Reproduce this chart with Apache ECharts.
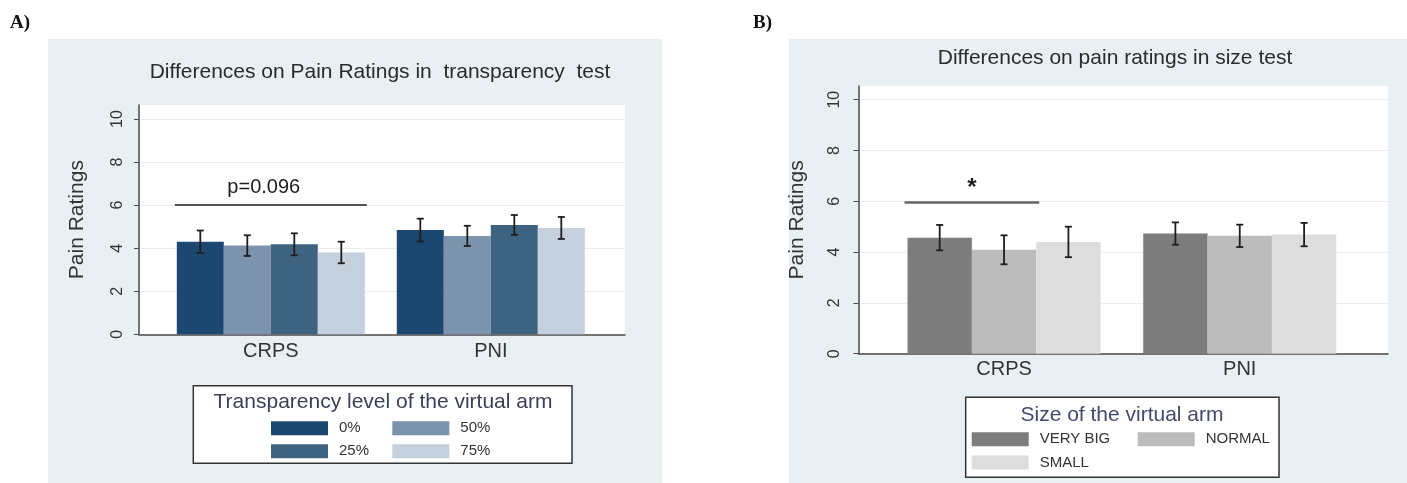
<!DOCTYPE html>
<html><head><meta charset="utf-8">
<script src="https://cdn.jsdelivr.net/npm/echarts@6/dist/echarts.min.js"></script>
<style>html,body{margin:0;padding:0;background:#fff}#c{width:1407px;height:483px}</style>
</head><body><div id="c"></div>
<script>
// ---------- data ----------
const categories = ['CRPS', 'PNI'];
const yTicks = [0, 2, 4, 6, 8, 10];

// Panel A: transparency test (bar order as drawn)
const transNames = ['0%', '50%', '25%', '75%'];
const trans0  = [4.30, 4.84];
const trans50 = [4.12, 4.57];
const trans25 = [4.18, 5.08];
const trans75 = [3.80, 4.94];
const trans0Err  = [0.52, 0.53];
const trans50Err = [0.48, 0.47];
const trans25Err = [0.51, 0.46];
const trans75Err = [0.50, 0.51];
const transSigLevel = [6.0];
const transSigLabel = ['p=0.096'];

// Panel B: size test
const sizeNames = ['VERY BIG', 'NORMAL', 'SMALL'];
const sizeVeryBig = [4.57, 4.73];
const sizeNormal  = [4.09, 4.64];
const sizeSmall   = [4.40, 4.69];
const sizeVeryBigErr = [0.50, 0.44];
const sizeNormalErr  = [0.57, 0.44];
const sizeSmallErr   = [0.60, 0.46];
const sizeSigLevel = [5.95];
const sizeSigLabel = ['*'];

// ---------- helpers ----------
const FONT = 'Liberation Sans, Arial, sans-serif';

function errSeries(name, gi, vals, errs, k, n, gap) {
  return {
    type: 'custom', name: name + ' err', xAxisIndex: gi, yAxisIndex: gi, z: 5,
    data: vals.map((v, i) => [i, v - errs[i], v + errs[i]]),
    encode: { x: 0, y: [1, 2] },
    renderItem: function (params, api) {
      const hi = api.coord([api.value(0), api.value(2)]);
      const lo = api.coord([api.value(0), api.value(1)]);
      const band = api.size([1, 0])[0];
      const bw = band * (1 - gap) / n;
      const x = hi[0] - band * (1 - gap) / 2 + (k + 0.5) * bw;
      const st = { stroke: '#1e1e1e', lineWidth: 1.8 };
      return { type: 'group', children: [
        { type: 'line', shape: { x1: x, y1: hi[1], x2: x, y2: lo[1] }, style: st },
        { type: 'line', shape: { x1: x - 3.5, y1: hi[1], x2: x + 3.5, y2: hi[1] }, style: st },
        { type: 'line', shape: { x1: x - 3.5, y1: lo[1], x2: x + 3.5, y2: lo[1] }, style: st }
      ]};
    }
  };
}

function sigSeries(gi, level, label, s0, s1, n, gap, opt) {
  return {
    type: 'custom', xAxisIndex: gi, yAxisIndex: gi, z: 6,
    data: level.map((v, i) => [i, v]),
    encode: { x: 0, y: 1 },
    renderItem: function (params, api) {
      const p = api.coord([api.value(0), api.value(1)]);
      const band = api.size([1, 0])[0];
      const bw = band * (1 - gap) / n;
      const left = p[0] - band * (1 - gap) / 2;
      const x1 = left + s0 * bw - opt.ext;
      const x2 = left + (s1 + 1) * bw + opt.ext;
      return { type: 'group', children: [
        { type: 'line', shape: { x1: x1, y1: p[1], x2: x2, y2: p[1] },
          style: { stroke: opt.color, lineWidth: opt.lw } },
        { type: 'text', x: (x1 + x2) / 2 + opt.dx, y: p[1] - opt.dy,
          style: { text: label[params.dataIndex], fontSize: opt.fs, fontFamily: FONT,
                   fill: '#1e1e1e', align: 'center', verticalAlign: 'middle', fontWeight: opt.fw } }
      ]};
    }
  };
}

function frameAxes(gi, yMax, labelMargin, nameGap, fs) {
  return {
    x: { type: 'value', gridIndex: gi, min: 0, max: 1,
         axisLine: { show: true, onZero: false, lineStyle: { color: '#4a4a4a', width: 1.5 } },
         axisTick: { show: false }, axisLabel: { show: false }, splitLine: { show: false } },
    y: { type: 'value', gridIndex: gi, min: 0, max: yMax, interval: 2,
         axisLine: { show: true, lineStyle: { color: '#4a4a4a', width: 1.5 } },
         axisTick: { show: true, length: 5, customValues: yTicks, lineStyle: { color: '#4a4a4a' } },
         axisLabel: { rotate: 90, fontSize: fs, fontFamily: FONT, color: '#333', margin: labelMargin,
                      customValues: yTicks, formatter: v => (v % 2 === 0 ? String(v) : '') },
         splitLine: { show: true, lineStyle: { color: '#e8eef2', width: 1.2 } },
         name: 'Pain Ratings', nameLocation: 'middle', nameGap: nameGap,
         nameTextStyle: { fontSize: 21, fontFamily: FONT, color: '#333' } }
  };
}

function barAxes(gi, yMax, catMargin) {
  return {
    x: { type: 'category', gridIndex: gi, data: categories,
         axisLine: { show: false }, axisTick: { show: false }, splitLine: { show: false },
         axisLabel: { fontSize: 20, fontFamily: FONT, color: '#333', margin: catMargin } },
    y: { type: 'value', gridIndex: gi, min: 0, max: yMax, show: false, splitLine: { show: false } }
  };
}

// ---------- panel A ----------
const gapA = 0.1455, yMaxA = 10.65;
const colorsA = ['#1c4770', '#7b93ad', '#3d6380', '#c4d0dd'];
const valsA = [trans0, trans50, trans25, trans75];
const errsA = [trans0Err, trans50Err, trans25Err, trans75Err];

// ---------- panel B ----------
const gapB = 0.181, yMaxB = 10.54;
const colorsB = ['#7d7d7d', '#bcbcbc', '#dddddd'];
const valsB = [sizeVeryBig, sizeNormal, sizeSmall];
const errsB = [sizeVeryBigErr, sizeNormalErr, sizeSmallErr];

const fA = frameAxes(0, yMaxA, 13, 51, 16), bA = barAxes(1, yMaxA, 7);
const fB = frameAxes(2, yMaxB, 16, 51, 16), bB = barAxes(3, yMaxB, 6);

const series = [];
transNames.forEach((nm, k) => {
  series.push({ type: 'bar', name: nm, xAxisIndex: 1, yAxisIndex: 1, data: valsA[k],
    barGap: '0%', barCategoryGap: (gapA * 100) + '%', itemStyle: { color: colorsA[k] } });
});
transNames.forEach((nm, k) => series.push(errSeries(nm, 1, valsA[k], errsA[k], k, 4, gapA)));
series.push(sigSeries(1, transSigLevel, transSigLabel, 0, 3, 4, gapA,
  { ext: 2, color: '#555', lw: 2, dy: 18, dx: -7, fs: 20, fw: 'normal' }));

sizeNames.forEach((nm, k) => {
  series.push({ type: 'bar', name: nm, xAxisIndex: 3, yAxisIndex: 3, data: valsB[k],
    barGap: '0%', barCategoryGap: (gapB * 100) + '%', itemStyle: { color: colorsB[k] } });
});
sizeNames.forEach((nm, k) => series.push(errSeries(nm, 3, valsB[k], errsB[k], k, 3, gapB)));
series.push(sigSeries(3, sizeSigLevel, sizeSigLabel, 0, 1, 3, gapB,
  { ext: 3, color: '#666', lw: 2.5, dy: 14, dx: 0, fs: 24, fw: 'bold' }));

const legendBase = { orient: 'vertical', icon: 'rect', itemWidth: 57, itemHeight: 14, itemGap: 8,
  selectedMode: false, padding: 0,
  textStyle: { fontSize: 15, fontFamily: FONT, color: '#333', lineHeight: 14, padding: [0, 0, 0, 6] } };

const option = {
  backgroundColor: '#ffffff',
  animation: false,
  grid: [
    { left: 139, top: 105, width: 486, height: 229.3, show: true, backgroundColor: '#ffffff', borderWidth: 0 },
    { left: 160.8, top: 105, width: 440, height: 229.3 },
    { left: 858.5, top: 86, width: 529.5, height: 267.7, show: true, backgroundColor: '#ffffff', borderWidth: 0 },
    { left: 886.2, top: 86, width: 471.4, height: 267.7 }
  ],
  xAxis: [fA.x, bA.x, fB.x, bB.x],
  yAxis: [fA.y, bA.y, fB.y, bB.y],
  legend: [
    Object.assign({}, legendBase, { left: 271, top: 420.7, data: ['0%', '25%'] }),
    Object.assign({}, legendBase, { left: 392.3, top: 420.7, data: ['50%', '75%'] }),
    Object.assign({}, legendBase, { left: 971.7, top: 431.7, itemGap: 8.3, data: ['VERY BIG', 'SMALL'] }),
    Object.assign({}, legendBase, { left: 1137.7, top: 431.7, data: ['NORMAL'] })
  ],
  graphic: [
    { type: 'rect', z: -10, silent: true, shape: { x: 48, y: 39, width: 614, height: 444 }, style: { fill: '#e9f0f3' } },
    { type: 'rect', z: -10, silent: true, shape: { x: 789, y: 39, width: 618, height: 444 }, style: { fill: '#e9f0f3' } },
    { type: 'rect', z: 1, silent: true, shape: { x: 193.3, y: 385.7, width: 378.7, height: 77.6 },
      style: { fill: '#ffffff', stroke: '#333', lineWidth: 1.5 } },
    { type: 'rect', z: 1, silent: true, shape: { x: 965.7, y: 397.3, width: 313.3, height: 80 },
      style: { fill: '#ffffff', stroke: '#333', lineWidth: 1.5 } },
    { type: 'text', z: 10, x: 383, y: 402.3, style: { text: 'Transparency level of the virtual arm',
      fontSize: 21, fontFamily: FONT, fill: '#3b4058', align: 'center', verticalAlign: 'middle' } },
    { type: 'text', z: 10, x: 1122, y: 415, style: { text: 'Size of the virtual arm',
      fontSize: 21, fontFamily: FONT, fill: '#444a6a', align: 'center', verticalAlign: 'middle' } },
    { type: 'text', z: 10, x: 380, y: 72.7, style: { text: 'Differences on Pain Ratings in  transparency  test',
      fontSize: 21, fontFamily: FONT, fill: '#2b2b2b', align: 'center', verticalAlign: 'middle' } },
    { type: 'text', z: 10, x: 1115, y: 58, style: { text: 'Differences on pain ratings in size test',
      fontSize: 21, fontFamily: FONT, fill: '#2b2b2b', align: 'center', verticalAlign: 'middle' } },
    { type: 'text', z: 10, x: 10, y: 23, style: { text: 'A)', fontSize: 19, fontWeight: 'bold',
      fontFamily: 'Liberation Serif, Times New Roman, serif', fill: '#111', verticalAlign: 'middle' } },
    { type: 'text', z: 10, x: 753, y: 23, style: { text: 'B)', fontSize: 19, fontWeight: 'bold',
      fontFamily: 'Liberation Serif, Times New Roman, serif', fill: '#111', verticalAlign: 'middle' } }
  ],
  series: series
};

const chart = echarts.init(document.getElementById('c'), null, { renderer: 'canvas' });
chart.setOption(option);
</script>
</body></html>
